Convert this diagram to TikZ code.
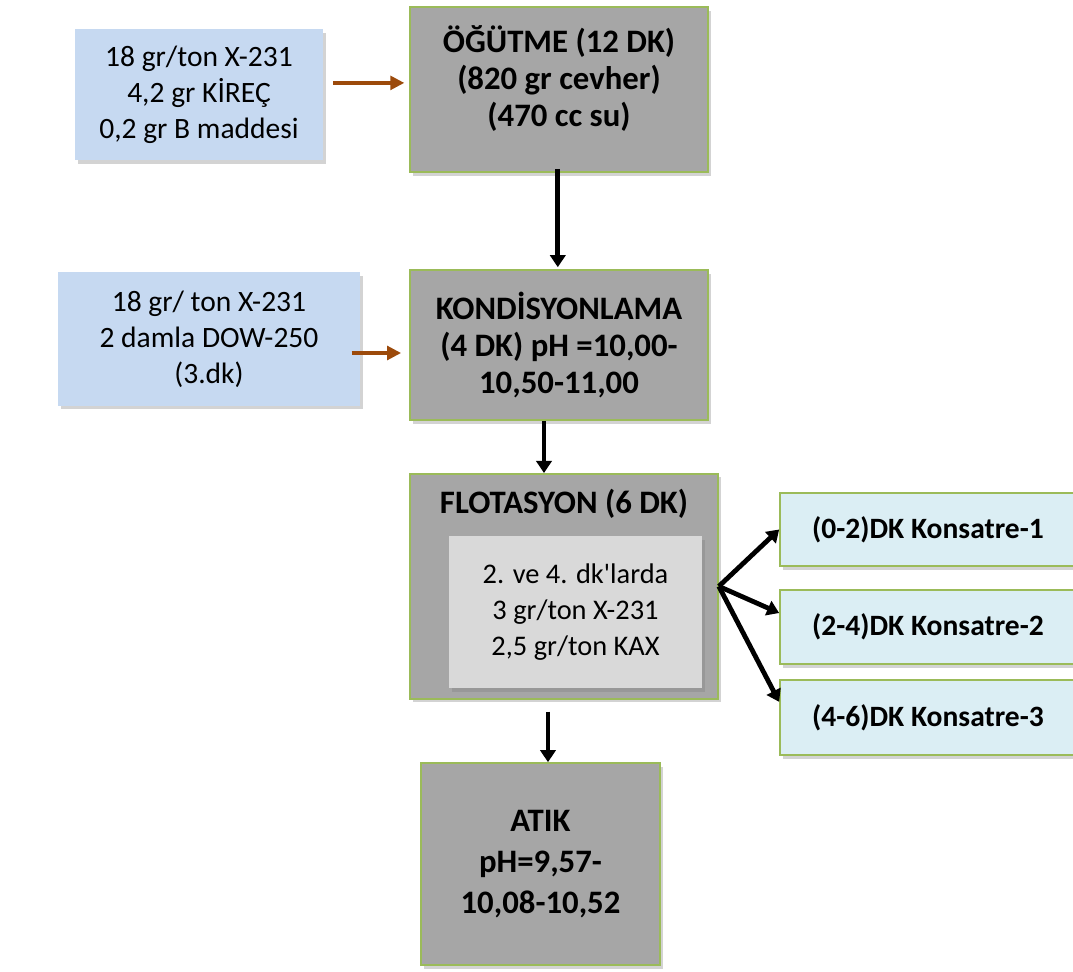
\documentclass[tikz,border=0pt]{standalone}
\usepackage{fontspec}
\setmainfont{Carlito}
\usetikzlibrary{arrows.meta,shadows}
\definecolor{feedblue}{HTML}{C6D9F1}
\definecolor{stepgray}{HTML}{A6A6A6}
\definecolor{stepgreen}{HTML}{9BBB59}
\definecolor{subgray}{HTML}{D9D9D9}
\definecolor{outblue}{HTML}{DBEEF4}
\definecolor{feedbrown}{HTML}{9C4A0B}
\tikzset{
  boxshadow/.style={drop shadow={shadow xshift=0.07cm,shadow yshift=-0.09cm,opacity=0.35}},
  feedbox/.style={fill=feedblue,boxshadow,align=center,font=\fontsize{21}{25.5}\selectfont},
  stepbox/.style={fill=stepgray,draw=stepgreen,line width=0.04cm,boxshadow,align=center,font=\fontsize{23.3}{26.5}\selectfont\bfseries},
  subbox/.style={fill=subgray,boxshadow,align=center,font=\fontsize{20.2}{25.3}\selectfont},
  outbox/.style={fill=outblue,draw=stepgreen,line width=0.04cm,boxshadow,font=\fontsize{21}{25}\selectfont\bfseries},
  feed/.style={feedbrown,line width=0.1cm,-{Triangle[length=0.35cm,width=0.34cm]}},
  flow/.style={black,line width=0.12cm,-{Triangle[length=0.3cm,width=0.38cm]}}
}
\begin{document}
\begin{tikzpicture}[x=0.025cm,y=-0.025cm]
\useasboundingbox (0,0) rectangle (1073,972);
% feeds
\node[feedbox,minimum width=6.2cm,minimum height=3.275cm] (feedA) at (199,94.5) {18 gr/ton X-231\\4,2 gr KİREÇ\\0,2 gr B maddesi};
\node[feedbox,minimum width=7.55cm,minimum height=3.325cm] (feedB) at (209,339) {18 gr/ ton X-231\\2 damla DOW-250\\(3.dk)};
% main steps
\node[stepbox,minimum width=7.45cm,minimum height=4.125cm] (ogutme) at (559,89.5) {ÖĞÜTME (12 DK)\\(820 gr cevher)\\(470 cc su)\\[-0.25cm]};
\node[stepbox,minimum width=7.45cm,minimum height=3.75cm] (kond) at (559,345) {KONDİSYONLAMA\\(4 DK) pH =10,00-\\10,50-11,00};
\node[stepbox,minimum width=7.7cm,inner sep=0pt,text height=1cm,text depth=4.625cm] (flot) at (564,473) [anchor=north] {FLOTASYON (6 DK)};
\node[subbox,minimum width=6.325cm,minimum height=3.8cm] (flotsub) at (575.5,612) {2. ve 4. dk\textquotesingle larda\\3 gr/ton X-231\\2,5 gr/ton KAX};
\node[stepbox,minimum width=5.975cm,minimum height=5.05cm,font=\fontsize{23.3}{29}\selectfont\bfseries] (atik) at (540.5,864) {ATIK\\pH=9,57-\\10,08-10,52};
% products
\node[outbox,minimum width=7.4cm,minimum height=1.825cm] (kons1) at (928,529.5) {(0-2)DK Konsatre-1};
\node[outbox,minimum width=7.4cm,minimum height=1.85cm] (kons2) at (928,627) {(2-4)DK Konsatre-2};
\node[outbox,minimum width=7.4cm,minimum height=1.875cm] (kons3) at (928,717.5) {(4-6)DK Konsatre-3};
% connectors
\draw[feed,shorten <=0.25cm,shorten >=0.12cm] ([yshift=0.29cm]feedA.east) -- ([yshift=0.29cm]feedA.east -| ogutme.west);
\draw[feed,shorten <=-0.22cm,shorten >=0.2cm] ([yshift=-0.35cm]feedB.east) -- ([yshift=-0.35cm]feedB.east -| kond.west);
\draw[flow,shorten <=-0.1cm,shorten >=0.05cm] ([xshift=-0.03cm]ogutme.south) -- ([xshift=-0.03cm]kond.north);
\draw[flow] ([xshift=-0.375cm]kond.south) -- ([xshift=-0.375cm]kond.south |- flot.north);
\draw[flow,shorten <=0.3cm] ([xshift=-0.4cm]flot.south) -- ([xshift=-0.4cm]flot.south |- atik.north);
\draw[flow] (flot.east) -- (kons1.west);
\draw[flow] (flot.east) -- ([yshift=0.35cm]kons2.west);
\draw[flow] (flot.east) -- ([yshift=0.39cm]kons3.west);
\end{tikzpicture}
\end{document}
